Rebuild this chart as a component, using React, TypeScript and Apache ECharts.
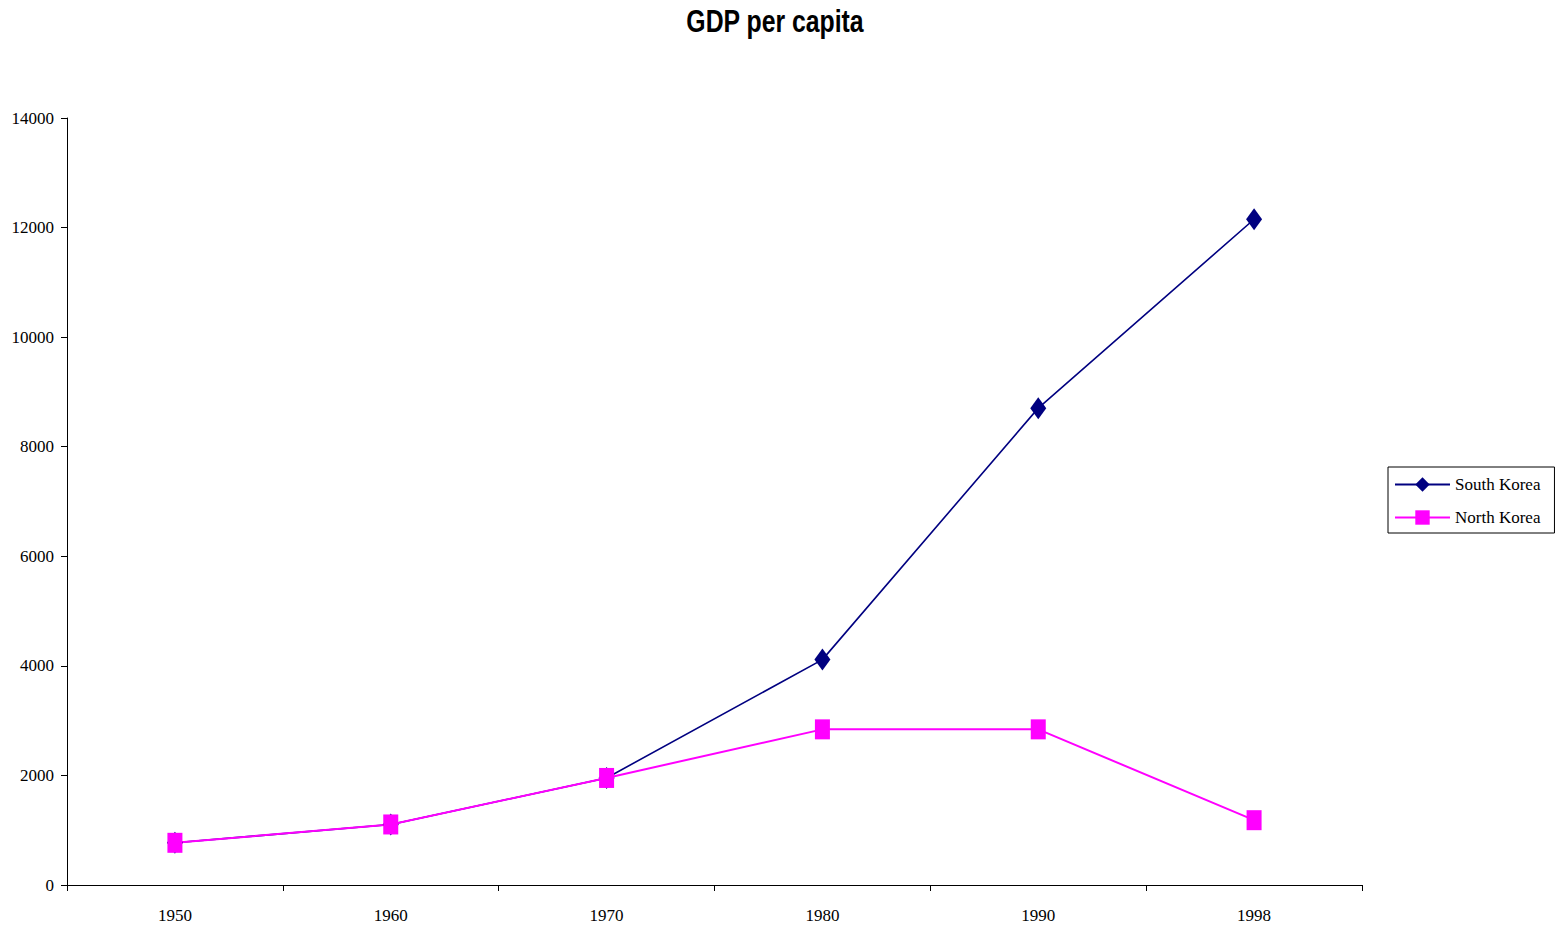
import React, { useEffect, useRef } from "react";
import * as echarts from "echarts";

const years = ["1950", "1960", "1970", "1980", "1990", "1998"];
const southKorea = [770, 1105, 1954, 4114, 8704, 12152];
const northKorea = [770, 1105, 1954, 2841, 2841, 1183];
const yTicks = { min: 0, max: 14000, interval: 2000 };
const titleText = "GDP per capita";

const serif = "'Liberation Serif', 'Times New Roman', serif";

export default function App() {
  const ref = useRef<HTMLDivElement>(null);
  useEffect(() => {
    if (!ref.current) return;
    const chart = echarts.init(ref.current, undefined, { renderer: "svg" });
    chart.setOption({
      animation: false,
      backgroundColor: "#ffffff",
      graphic: [
        {
          type: "text",
          x: 775,
          y: 22,
          scaleX: 0.8,
          style: {
            text: titleText,
            fontFamily: "'Liberation Sans', Arial, sans-serif",
            fontWeight: "bold",
            fontSize: 31,
            fill: "#000",
            align: "center",
            verticalAlign: "middle",
          },
        },
      ],
      grid: { left: 67, right: 195, top: 118, bottom: 41, containLabel: false },
      legend: {
        orient: "vertical",
        left: 1388,
        top: 467,
        padding: [9, 14, 7, 6],
        itemGap: 16,
        itemWidth: 55,
        itemHeight: 18,
        borderColor: "#000",
        borderWidth: 1,
        textStyle: { fontFamily: serif, fontSize: 17, color: "#000" },
        data: ["South Korea", "North Korea"],
      },
      xAxis: {
        type: "category",
        data: years,
        boundaryGap: true,
        axisLine: { lineStyle: { color: "#000", width: 1 } },
        axisTick: { show: true, inside: false, length: 6, lineStyle: { color: "#000" } },
        axisLabel: { fontFamily: serif, fontSize: 17, color: "#000", margin: 22 },
        splitLine: { show: false },
      },
      yAxis: {
        type: "value",
        min: yTicks.min,
        max: yTicks.max,
        interval: yTicks.interval,
        axisLine: { show: true, lineStyle: { color: "#000", width: 1 } },
        axisTick: { show: true, inside: false, length: 6, lineStyle: { color: "#000" } },
        axisLabel: {
          fontFamily: serif,
          fontSize: 17,
          color: "#000",
          margin: 13,
          formatter: (v: number) => String(v),
        },
        splitLine: { show: false },
      },
      series: [
        {
          name: "South Korea",
          type: "line",
          data: southKorea,
          color: "#000080",
          symbol: "diamond",
          symbolSize: [16, 22],
          showAllSymbol: true,
          lineStyle: { color: "#000080", width: 1.6 },
          itemStyle: { color: "#000080" },
        },
        {
          name: "North Korea",
          type: "line",
          data: northKorea,
          color: "#FF00FF",
          symbol: "rect",
          symbolSize: [15, 20],
          showAllSymbol: true,
          lineStyle: { color: "#FF00FF", width: 2 },
          itemStyle: { color: "#FF00FF" },
        },
      ],
    });
    return () => chart.dispose();
  }, []);
  return <div ref={ref} style={{ width: 1557, height: 926, position: "absolute", left: 0, top: 0 }} />;
}
